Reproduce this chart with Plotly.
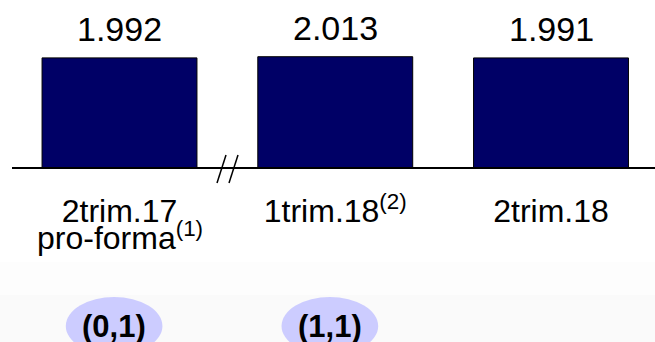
import plotly.graph_objects as go

categories = ["2trim.17", "1trim.18<sup>(2)</sup>", "2trim.18"]
values = [1992, 2013, 1991]
sublabels = ["pro-forma<sup>(1)</sup>", "", ""]
tags = ["(0,1)", "(1,1)"]

W, H = 655, 342
FONT = "Arial, Liberation Sans, sans-serif"
x_pos = list(range(len(categories)))

# pixel helpers (for decorations only)
def px(x):
    return x / W

def py(y):
    return 1 - y / H

fig = go.Figure()
fig.add_trace(go.Bar(
    x=x_pos, y=values, width=0.718,
    marker=dict(color="#000066", line=dict(color="#000000", width=1)),
    hoverinfo="skip",
))

shapes = []
# subtle background shading at the bottom
shapes.append(dict(type="rect", xref="paper", yref="paper", x0=0, x1=1,
                   y0=py(295), y1=py(262), fillcolor="#fdfdfd", line_width=0, layer="below"))
shapes.append(dict(type="rect", xref="paper", yref="paper", x0=0, x1=1,
                   y0=0, y1=py(295), fillcolor="#fafafa", line_width=0, layer="below"))
# baseline
shapes.append(dict(type="line", xref="paper", yref="y", x0=px(12), x1=1, y0=0, y1=0,
                   line=dict(color="#000000", width=2)))
# axis-break marks
for xb, xt in [(217, 226), (229, 238)]:
    shapes.append(dict(type="line", xref="paper", yref="paper",
                       x0=px(xb), y0=py(183), x1=px(xt), y1=py(155),
                       line=dict(color="#000000", width=1.5)))

annotations = []
# value labels
for i, v in enumerate(values):
    annotations.append(dict(x=i, xref="x", y=v, yref="y",
                            text=f"{v:,}".replace(",", "."), showarrow=False,
                            yanchor="bottom", yshift=8,
                            font=dict(family=FONT, size=34, color="#000000")))
for i, s in enumerate(sublabels):
    if s:
        annotations.append(dict(x=i, xref="x", y=py(236), yref="paper", text=s,
                                showarrow=False, yanchor="middle",
                                font=dict(family=FONT, size=32, color="#000000")))
for i, t in enumerate(tags):
    shapes.append(dict(type="circle", xref="x", yref="paper",
                       x0=i - 0.025 - 0.224, x1=i - 0.025 + 0.224,
                       y0=py(355), y1=py(297), fillcolor="#ccccff", line_width=0))
    annotations.append(dict(x=i - 0.025, xref="x", y=py(326), yref="paper",
                            text="<b>" + t + "</b>", showarrow=False, yanchor="middle",
                            font=dict(family=FONT, size=31, color="#000000")))

fig.update_layout(
    width=W, height=H,
    margin=dict(l=0, r=0, t=0, b=0),
    paper_bgcolor="#ffffff", plot_bgcolor="rgba(0,0,0,0)",
    showlegend=False,
    shapes=shapes, annotations=annotations,
    xaxis=dict(range=[-0.5539, 2.4820], tickvals=x_pos, ticktext=categories,
               showgrid=False, zeroline=False, showline=False,
               ticks="", ticklabelstandoff=21,
               anchor="free", position=1 - 168 / H,
               tickfont=dict(family=FONT, size=32, color="#000000")),
    yaxis=dict(range=[-3148, 3039], visible=False, showgrid=False, zeroline=False),
)

fig.write_html("out.html", config={"displayModeBar": False, "staticPlot": True},
               post_script="document.body.style.margin='0';")
